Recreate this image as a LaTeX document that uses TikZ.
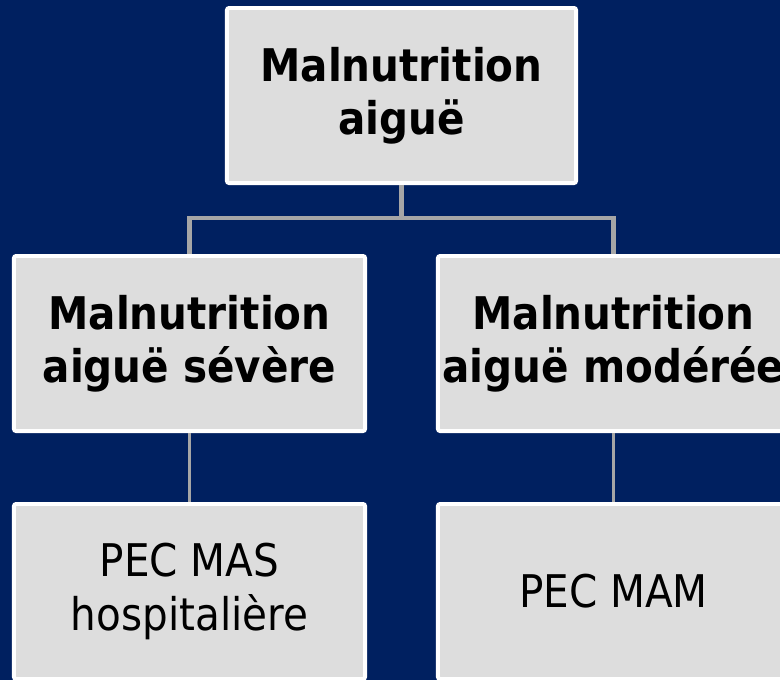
\documentclass[tikz,border=0pt]{standalone}
\usepackage{fontspec}
\setmainfont{DejaVu Sans Condensed}
\definecolor{navy}{HTML}{002060}
\definecolor{boxgray}{HTML}{DDDDDD}
\definecolor{linegray}{HTML}{A6A6A6}
\tikzset{
  orgbox/.style={draw=white, line width=2.8pt, fill=boxgray, rounded corners=1.5pt,
    minimum width=8.775cm, minimum height=4.375cm, align=center, inner sep=0pt},
  headtext/.style={font=\fontsize{32}{38}\selectfont\bfseries},
  leaftext/.style={font=\fontsize{32}{38}\selectfont},
  link/.style={draw=linegray, line width=3pt}
}
\begin{document}
\begin{tikzpicture}[x=0.025cm,y=-0.025cm]
		\fill[navy] (0,0) rectangle (780,680);
		\useasboundingbox (0,0) rectangle (780,680);
		\node[orgbox, headtext, minimum width=8.725cm] (top) at (401.5,95.5) {Malnutrition\\aiguë};
		\node[orgbox, headtext] (sev) at (189.5,343.5) {Malnutrition\\aiguë sévère};
		\node[orgbox, headtext] (mod) at (613.5,343.5) {Malnutrition\\aiguë modérée};
		\node[orgbox, leaftext] (mas) at (189.5,591.5) {PEC MAS\\hospitalière};
		\node[orgbox, leaftext] (mam) at (613.5,591.5) {PEC MAM};
		\coordinate (split) at (401.5,218);
		\draw[link] (top.south) -- (split) -| (sev.north);
		\draw[link] (split) -| (mod.north);
		\draw[link, line width=2.5pt] (sev.south) -- (mas.north);
		\draw[link, line width=2.5pt] (mod.south) -- (mam.north);
	\end{tikzpicture}
\end{document}
